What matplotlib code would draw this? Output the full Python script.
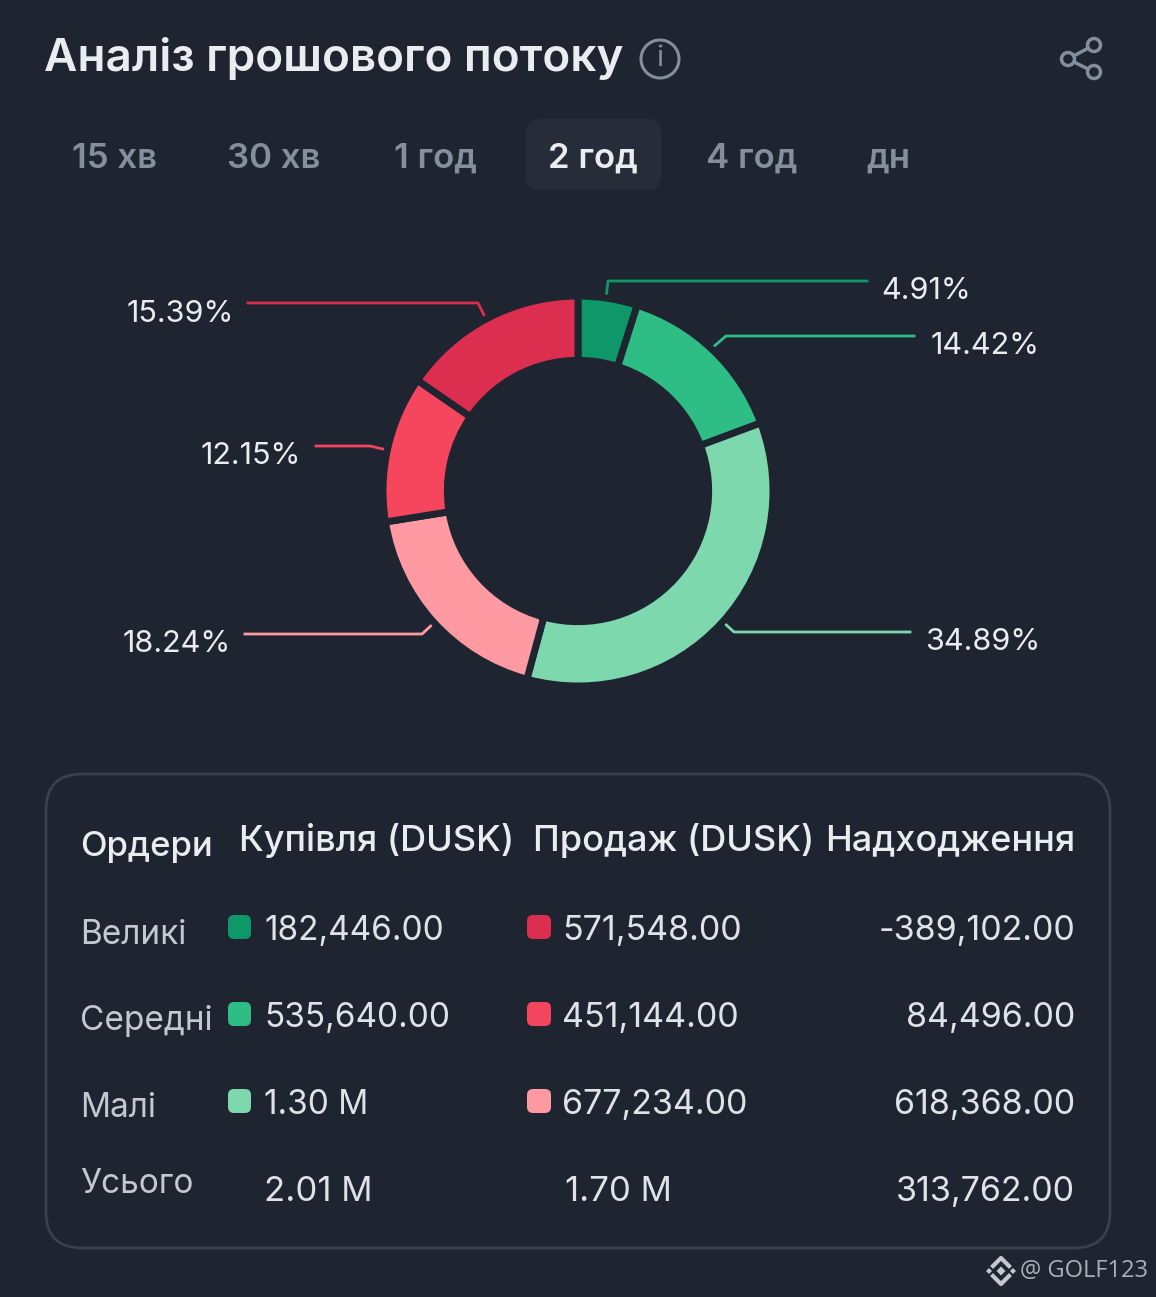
import numpy as np
import matplotlib
matplotlib.use("Agg")
import matplotlib.pyplot as plt
from matplotlib.patches import FancyBboxPatch, Circle, RegularPolygon

W, H = 1156, 1297
BG = "#1e2430"

# chart values, clockwise from the top
slice_values = [4.91, 14.42, 34.89, 18.24, 12.15, 15.39]
slice_colors = ["#0e9768", "#2ebd85", "#7dd8ae", "#ff9aa2", "#f6465d", "#dc2f50"]
slice_labels = ["4.91%", "14.42%", "34.89%", "18.24%", "12.15%", "15.39%"]

periods = ["15 хв", "30 хв", "1 год", "2 год", "4 год", "дн"]
period_x = [114, 274, 435, 593, 752, 888]

headers = ["Купівля (DUSK)", "Продаж (DUSK)", "Надходження"]
row_names = ["Великі", "Середні", "Малі", "Усього"]
buy_col = ["182,446.00", "535,640.00", "1.30 M", "2.01 M"]
sell_col = ["571,548.00", "451,144.00", "677,234.00", "1.70 M"]
inflow_col = ["-389,102.00", "84,496.00", "618,368.00", "313,762.00"]

plt.rcParams['font.family'] = ['Inter', 'DejaVu Sans']

fig = plt.figure(figsize=(W / 100, H / 100), dpi=100, facecolor=BG)
# whole figure axes in pixel coords, y going down
ax = fig.add_axes([0, 0, 1, 1])
ax.set_xlim(0, W)
ax.set_ylim(H, 0)
ax.axis("off")

# header
ax.text(44, 59, "Аналіз грошового потоку", color="#eaecef", fontsize=33, fontweight="semibold", va="center")
ax.add_patch(Circle((660, 59), 19, fc="none", ec="#848e9c", lw=2.2))
ax.text(660, 59, "i", color="#848e9c", fontsize=21, ha="center", va="center")

# share icon
share_pts = [(1094, 45), (1068, 59), (1094, 72)]
ax.plot([share_pts[0][0], share_pts[1][0], share_pts[2][0]], [share_pts[0][1], share_pts[1][1], share_pts[2][1]],
        color="#848e9c", lw=2.5, zorder=2)
for p in share_pts:
    ax.add_patch(Circle(p, 6.5, fc=BG, ec="#848e9c", lw=2.5, zorder=3))

# period tabs
ax.add_patch(FancyBboxPatch((526, 119), 135, 71, boxstyle="round,pad=0,rounding_size=14", fc="#262d39", ec="none"))
for x, p in zip(period_x, periods):
    active = p == "2 год"
    ax.text(x, 159, p, color="#eaecef" if active else "#848e9c", fontsize=25,
            fontweight="semibold", ha="center", va="center")

# donut, drawn in its own axes
cx, cy, r_out = 578, 491, 195
donut = fig.add_axes([(cx - r_out) / W, 1 - (cy + r_out) / H, 2 * r_out / W, 2 * r_out / H])
donut.pie(slice_values, colors=slice_colors, startangle=90, counterclock=False, radius=1,
          wedgeprops=dict(width=0.33, edgecolor=BG, linewidth=5))
donut.set_xlim(-1, 1)
donut.set_ylim(-1, 1)
donut.set_aspect("equal")

# leader lines: polyline and label position
leaders = [
    ([(606, 298), (608, 281), (867, 281)], (881, 291), "left"),
    ([(712, 348), (726, 336), (914, 336)], (931, 346), "left"),
    ([(723, 622), (734, 632), (910, 632)], (925, 642), "left"),
    ([(435, 622), (422, 634), (245, 634)], (231, 644), "right"),
    ([(387, 450), (370, 446), (316, 446)], (301, 456), "right"),
    ([(486, 319), (478, 303), (248, 303)], (234, 314), "right"),
]
for (pts, lab, ha), col, txt in zip(leaders, slice_colors, slice_labels):
    ax.plot([q[0] for q in pts], [q[1] for q in pts], color=col, lw=2)
    ax.text(lab[0], lab[1], txt, color="#eaecef", fontsize=22, ha=ha, va="center")

# table box
ax.add_patch(FancyBboxPatch((46, 774), 1064, 474, boxstyle="round,pad=0,rounding_size=36",
                            fc="none", ec="#3a414d", lw=2))
ax.text(80, 847, "Ордери", color="#eaecef", fontsize=25, fontweight="medium", va="center")
ax.text(239, 841, headers[0], color="#eaecef", fontsize=26, fontweight="medium", va="center")
ax.text(533, 841, headers[1], color="#eaecef", fontsize=26, fontweight="medium", va="center")
ax.text(1075, 841, headers[2], color="#eaecef", fontsize=26, fontweight="medium", va="center", ha="right")

row_y = [928, 1015, 1102, 1189]
name_y = [935, 1021, 1108, 1184]
for i in range(4):
    ax.text(80, name_y[i], row_names[i], color="#c4c9d1", fontsize=24, va="center")
    if i < 3:
        ax.add_patch(FancyBboxPatch((228, row_y[i] - 13), 23, 24, boxstyle="round,pad=0,rounding_size=6",
                                    fc=slice_colors[i], ec="none"))
        ax.add_patch(FancyBboxPatch((527, row_y[i] - 13), 24, 24, boxstyle="round,pad=0,rounding_size=6",
                                    fc=slice_colors[5 - i], ec="none"))
        ax.text(264, row_y[i] + 3, buy_col[i], color="#dfe2e6", fontsize=24, va="center")
        ax.text(562, row_y[i] + 3, sell_col[i], color="#dfe2e6", fontsize=24.5, va="center")
    else:
        ax.text(264, row_y[i] + 3, buy_col[i], color="#dfe2e6", fontsize=25, va="center")
        ax.text(565, row_y[i] + 3, sell_col[i], color="#dfe2e6", fontsize=25, va="center")
    ax.text(1075, row_y[i] + 3, inflow_col[i], color="#dfe2e6", fontsize=24.5, va="center", ha="right")

# watermark logo and handle
wm = "#c4c9d1"
for dx, dy, r in [(0, 0, 4.5), (-12, 0, 3), (12, 0, 3)]:
    ax.add_patch(RegularPolygon((1001 + dx, 1271 + dy), 4, radius=r, fc=wm, ec="none"))
ax.plot([993, 1001, 1009], [1266, 1258, 1266], color=wm, lw=3)
ax.plot([993, 1001, 1009], [1276, 1284, 1276], color=wm, lw=3)
ax.text(1020, 1271, "@ GOLF123", color="#aab0b8", fontsize=17, va="center", family=["Open Sans", "DejaVu Sans"])

fig.savefig("out.png", dpi=100, facecolor=BG)
